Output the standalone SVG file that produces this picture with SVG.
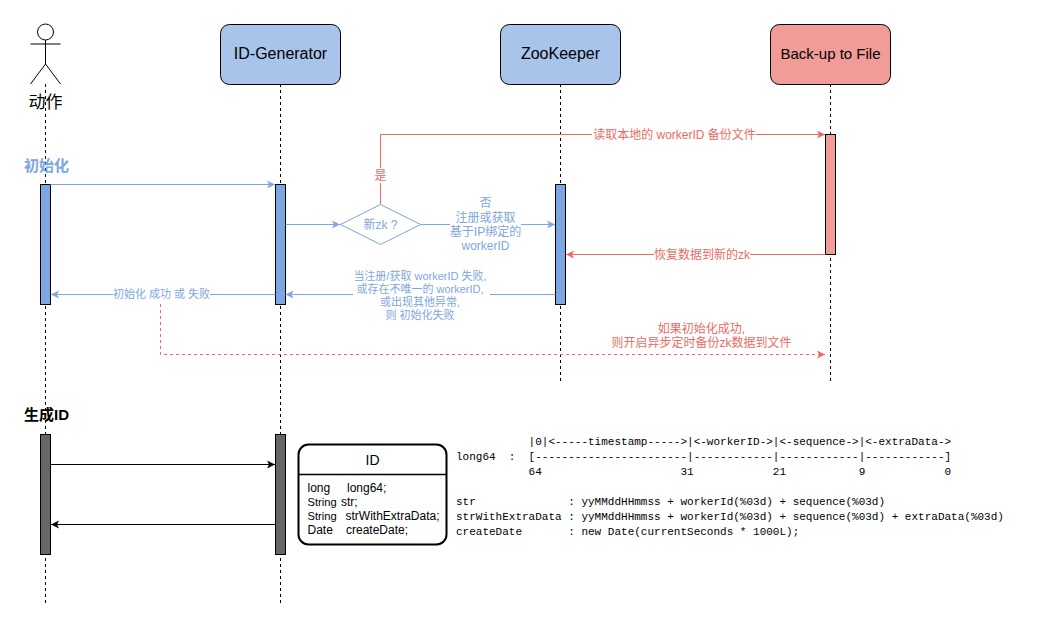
<svg xmlns="http://www.w3.org/2000/svg" width="1056" height="623" viewBox="0 0 1056 623">
<defs>
<marker id="ab" markerUnits="userSpaceOnUse" markerWidth="10" markerHeight="10" refX="8" refY="5" orient="auto"><path d="M0,1 L8,5 L0,9 L2,5 Z" fill="#7EA6E0"/></marker>
<marker id="ar" markerUnits="userSpaceOnUse" markerWidth="10" markerHeight="10" refX="8" refY="5" orient="auto"><path d="M0,1 L8,5 L0,9 L2,5 Z" fill="#EA6B66"/></marker>
<marker id="ak" markerUnits="userSpaceOnUse" markerWidth="10" markerHeight="10" refX="8" refY="5" orient="auto"><path d="M0,1 L8,5 L0,9 L2,5 Z" fill="#000"/></marker>
</defs>
<style>
text{font-family:"Liberation Sans","Noto Sans CJK SC",sans-serif;}
.life{fill:none;stroke:#000;stroke-width:1;stroke-dasharray:3 3;}
.head{stroke:#000;stroke-width:1;}
.bar{stroke:#000;stroke-width:1;}
.bl{fill:#7EA6E0;}.rd{fill:#F19C99;}.gr{fill:#666666;}
.b{fill:none;stroke:#7EA6E0;stroke-width:1;}
.r{fill:none;stroke:#EA6B66;stroke-width:1;}
.k{fill:none;stroke:#000;stroke-width:1;}
.tb{fill:#7EA6E0;font-size:12px;text-anchor:middle;}
.ts{fill:#7EA6E0;font-size:11px;text-anchor:middle;}
.tr{fill:#EA6B66;font-size:12px;text-anchor:middle;}
.name{font-size:16px;text-anchor:middle;fill:#000;}
.sec{font-size:15px;font-weight:bold;}
.mono{font-family:"Liberation Mono",monospace;font-size:11px;fill:#000;white-space:pre;}
.f{font-size:12px;fill:#000;}
.fs{font-size:11.200px;fill:#000;}
</style>
<rect width="1056" height="623" fill="#fff"/>
<g id="lifelines">
<path class="life" d="M45.500,84V604"/>
<path class="life" d="M280.500,84V604"/>
<path class="life" d="M560.500,84V384"/>
<path class="life" d="M830.500,84V384"/>
</g>
<g id="actor" fill="none" stroke="#000">
<circle cx="45.500" cy="32" r="8"/>
<path d="M45.500,40V64M30.500,44H60.500M45.500,64L30.500,84M45.500,64L60.500,84"/>
<text x="45.500" y="108" font-size="17" text-anchor="middle" fill="#000" stroke="none">动作</text>
</g>
<g id="id-generator"><rect class="head" x="220.500" y="24.500" width="120" height="60" rx="9" fill="#A9C4EB"/><text class="name" x="280.500" y="59">ID-Generator</text></g>
<g id="zookeeper"><rect class="head" x="500.500" y="24.500" width="120" height="60" rx="9" fill="#A9C4EB"/><text class="name" x="560.500" y="59">ZooKeeper</text></g>
<g id="backup"><rect class="head" x="770.500" y="24.500" width="120" height="60" rx="9" fill="#F19C99"/><text class="name" x="830.500" y="59" style="font-size:15px">Back-up to File</text></g>
<g id="activations">
<rect class="bar bl" x="40.500" y="184.500" width="10" height="120"/>
<rect class="bar bl" x="275.500" y="184.500" width="10" height="120"/>
<rect class="bar bl" x="555.500" y="184.500" width="10" height="120"/>
<rect class="bar rd" x="825.500" y="134.500" width="10" height="120"/>
<rect class="bar gr" x="40.500" y="434.500" width="10" height="120"/>
<rect class="bar gr" x="275.500" y="434.500" width="10" height="120"/>
</g>
<g id="connectors">
<path class="b" d="M50.500,184.500H275" marker-end="url(#ab)"/>
<path class="b" d="M285.500,224.500H340" marker-end="url(#ab)"/>
<path class="b" d="M420.500,224.500H450M521,224.500H555" marker-end="url(#ab)"/>
<path class="b" d="M555.500,294.500H490M353,294.500H285.500" marker-end="url(#ab)"/>
<path class="b" d="M275.500,294.500H210M113,294.500H51" marker-end="url(#ab)"/>
<path class="r" d="M380.500,204V183M380.500,168V134.500H592M756,134.500H825" marker-end="url(#ar)"/>
<path class="r" d="M825.500,254.500H750M654,254.500H566" marker-end="url(#ar)"/>
<path class="r" stroke-dasharray="3 3" d="M160.500,304V354.500H825" marker-end="url(#ar)"/>
<path class="k" d="M50.500,464.500H275" marker-end="url(#ak)"/>
<path class="k" d="M275.500,524.500H51" marker-end="url(#ak)"/>
</g>
<g id="decision"><path d="M380.500,204.500L420.500,224.500L380.500,244.500L340.500,224.500Z" fill="#fff" stroke="#7EA6E0"/><text class="tb" x="380.500" y="229">新zk ?</text></g>
<g id="labels">
<text x="24" y="171" class="sec" fill="#7EA6E0">初始化</text>
<text x="24" y="420" class="sec" fill="#000">生成ID</text>
<text class="tr" x="380.500" y="180">是</text>
<text class="tr" x="674.500" y="139">读取本地的 workerID 备份文件</text>
<text class="tb" x="485.500" y="207">否</text>
<text class="tb" x="485.500" y="222">注册或获取</text>
<text class="tb" x="485.500" y="236">基于IP绑定的</text>
<text class="tb" x="485.500" y="250">workerID</text>
<text class="ts" x="420" y="280">当注册/获取 workerID 失败,</text>
<text class="ts" x="420" y="293">或存在不唯一的 workerID,</text>
<text class="ts" x="420" y="306">或出现其他异常,</text>
<text class="ts" x="420" y="319">则 初始化失败</text>
<text class="ts" x="161.500" y="298">初始化 成功 或 失败</text>
<text class="tr" x="702" y="259">恢复数据到新的zk</text>
<text class="tr" x="701.500" y="333">如果初始化成功,</text>
<text class="tr" x="701.500" y="347">则开启异步定时备份zk数据到文件</text>
</g>
<g id="id-struct">
<rect x="298.500" y="444.500" width="148" height="100" rx="10" fill="#fff" stroke="#000" stroke-width="2"/>
<path d="M298.500,474.500H446.500" stroke="#000" stroke-width="1.500"/>
<text x="372.500" y="465" font-size="14" text-anchor="middle" fill="#000">ID</text>
<text class="f" x="307.500" y="492">long</text><text class="f" x="347" y="492">long64;</text>
<text class="fs" x="307.500" y="506">String</text><text class="f" x="341" y="506">str;</text>
<text class="fs" x="307.500" y="520">String</text><text class="f" x="345.500" y="520">strWithExtraData;</text>
<text class="f" x="307.500" y="534">Date</text><text class="f" x="346" y="534">createDate;</text>
</g>
<g id="format">
<text class="mono" x="456" y="445" xml:space="preserve">           |0|&lt;-----timestamp-----&gt;|&lt;-workerID-&gt;|&lt;-sequence-&gt;|&lt;-extraData-&gt;</text>
<text class="mono" x="456" y="460" xml:space="preserve">long64  :  [-----------------------|------------|------------|------------]</text>
<text class="mono" x="456" y="475" xml:space="preserve">           64                     31            21           9            0</text>
<text class="mono" x="456" y="505" xml:space="preserve">str              : yyMMddHHmmss + workerId(%03d) + sequence(%03d)</text>
<text class="mono" x="456" y="520" xml:space="preserve">strWithExtraData : yyMMddHHmmss + workerId(%03d) + sequence(%03d) + extraData(%03d)</text>
<text class="mono" x="456" y="535" xml:space="preserve">createDate       : new Date(currentSeconds * 1000L);</text>
</g>
</svg>
